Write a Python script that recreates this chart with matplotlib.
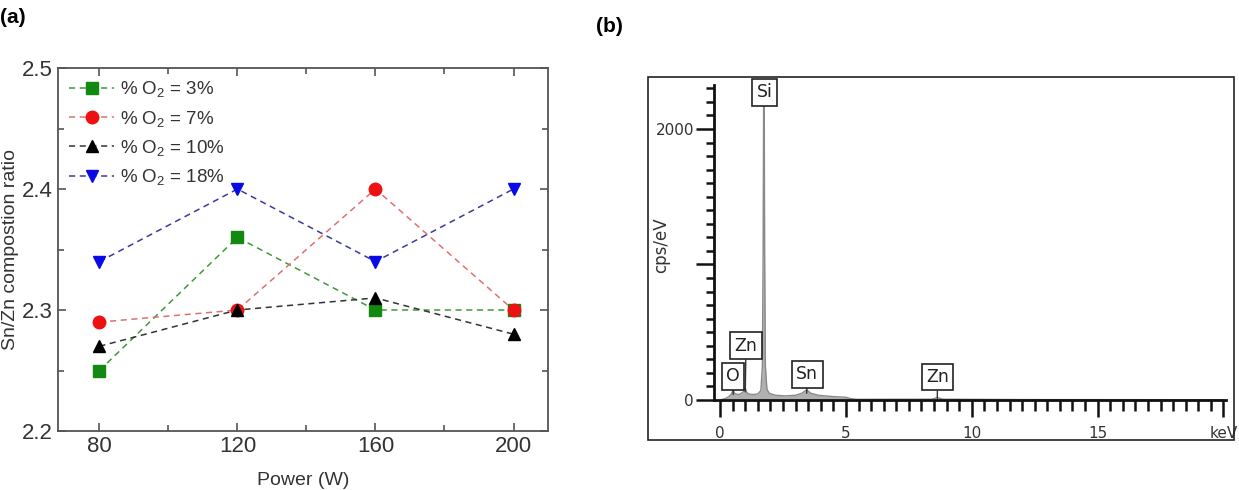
import matplotlib
matplotlib.use("Agg")
import matplotlib.pyplot as plt
from matplotlib.patches import Rectangle
from matplotlib.ticker import MultipleLocator, FixedLocator

plt.rcParams['font.family'] = ['Liberation Sans', 'DejaVu Sans']
plt.rcParams['mathtext.default'] = 'regular'

# ---------- data panel (a) ----------
power_w = [80, 120, 160, 200]
ratio_o2_3 = [2.25, 2.36, 2.30, 2.30]
ratio_o2_7 = [2.29, 2.30, 2.40, 2.30]
ratio_o2_10 = [2.27, 2.30, 2.31, 2.28]
ratio_o2_18 = [2.34, 2.40, 2.34, 2.40]
series_labels = ['% O$_2$ = 3%', '% O$_2$ = 7%', '% O$_2$ = 10%', '% O$_2$ = 18%']

# ---------- data panel (b) ----------
energy_kev = [0.0, 0.2, 0.35, 0.45, 0.52, 0.6, 0.75, 0.9, 1.0, 1.05, 1.12, 1.3, 1.5,
              1.62, 1.68, 1.71, 1.73, 1.74, 1.755, 1.77, 1.8, 1.86, 1.95, 2.2, 2.6,
              3.0, 3.25, 3.44, 3.6, 3.9, 4.5, 5.0, 5.2, 5.4, 8.4, 8.63, 8.85, 12.0, 20.0]
counts = [0, 10, 25, 45, 70, 45, 40, 55, 90, 60, 45, 40, 45,
          70, 250, 1100, 2200, 2330, 2200, 1100, 250, 80, 50, 35, 30,
          35, 50, 75, 50, 35, 25, 20, 10, 5, 6, 18, 6, 3, 2]
peak_names = ['Si', 'Zn', 'O', 'Sn', 'Zn']
peak_energy = [1.74, 1.0, 0.52, 3.44, 8.63]
peak_height = [2330, 60, 40, 50, 12]
label_energy = [1.76, 1.03, 0.52, 3.46, 8.64]
label_height = [2270, 400, 175, 190, 170]

fig = plt.figure(figsize=(12.39, 4.90), dpi=100)

# ---------- panel (a) ----------
ax = fig.add_axes([0.0468, 0.1204, 0.3955, 0.7408])
styles = [
    (ratio_o2_3, 's', '#128a12', '#3c9a3c'),
    (ratio_o2_7, 'o', '#ee1111', '#e07070'),
    (ratio_o2_10, '^', '#000000', '#333333'),
    (ratio_o2_18, 'v', '#0a0ae6', '#3a3a9a'),
]
handles = []
for (vals, mk, mc, lc), lab in zip(styles, series_labels):
    h, = ax.plot(power_w, vals, linestyle=(0, (4, 3)), color=lc, lw=1.1,
                 marker=mk, markersize=9, markerfacecolor=mc, markeredgecolor=mc,
                 label=lab)
    handles.append(h)
ax.set_xlim(68, 210)
ax.set_ylim(2.2, 2.5)
ax.xaxis.set_major_locator(FixedLocator(power_w))
ax.xaxis.set_minor_locator(FixedLocator([100, 140, 180]))
ax.yaxis.set_major_locator(MultipleLocator(0.1))
ax.yaxis.set_minor_locator(MultipleLocator(0.05))
ax.yaxis.set_major_formatter(matplotlib.ticker.FormatStrFormatter('%.1f'))
ax.tick_params(which='both', direction='in', top=True, right=True, colors='#555555',
               labelcolor='#333333', labelsize=16)
ax.tick_params(which='major', length=6, width=1.2)
ax.tick_params(which='minor', length=4, width=1.2)
for s in ax.spines.values():
    s.set_color('#555555')
    s.set_linewidth(1.3)
ax.set_xlabel('Power (W)', fontsize=14, color='#333333', labelpad=11)
ax.set_ylabel('Sn/Zn compostion ratio', fontsize=14, color='#333333', labelpad=2)
leg = ax.legend(handles=handles, loc='upper left', frameon=False, fontsize=13.5,
                handlelength=2.4, handletextpad=0.3, labelspacing=0.5,
                borderaxespad=0.2, bbox_to_anchor=(0.0, 1.0))
for t in leg.get_texts():
    t.set_color('#333333')

fig.text(0.0, 0.965, '(a)', fontsize=15, fontweight='bold', ha='left', va='center')
fig.text(0.481, 0.945, '(b)', fontsize=15, fontweight='bold', ha='left', va='center')

# ---------- panel (b) ----------
frame = Rectangle((0.523, 0.102), 0.473, 0.741, transform=fig.transFigure,
                  fill=False, edgecolor='#222222', lw=1.2)
fig.patches.append(frame)

bx = fig.add_axes([0.5759, 0.1837, 0.4136, 0.6429])
bx.fill_between(energy_kev, counts, 0, color='#b0b0b0', lw=0)
bx.plot(energy_kev, counts, color='#8a8a8a', lw=1.0)
bx.set_xlim(-0.26, 20.1)
bx.set_ylim(0, 2325)
for s in ['top', 'right']:
    bx.spines[s].set_visible(False)
for s in ['left', 'bottom']:
    bx.spines[s].set_linewidth(2)
    bx.spines[s].set_color('#111111')
bx.xaxis.set_major_locator(FixedLocator([0, 5, 10, 15, 20]))
bx.xaxis.set_minor_locator(MultipleLocator(0.5))
bx.set_xticklabels(['0', '5', '10', '15', 'keV'])
bx.yaxis.set_major_locator(FixedLocator([0, 1000, 2000]))
bx.yaxis.set_minor_locator(MultipleLocator(100))
bx.set_yticklabels(['0', '', '2000'])
bx.tick_params(which='both', direction='out', width=1.8, color='#111111',
               labelsize=11, labelcolor='#333333')
bx.tick_params(axis='x', which='major', length=12, pad=7)
bx.tick_params(axis='x', which='minor', length=8)
bx.tick_params(axis='y', which='major', length=13, pad=1)
bx.tick_params(axis='y', which='minor', length=6)
for t in bx.get_xticklabels() + bx.get_yticklabels():
    t.set_family('DejaVu Sans')
bx.set_ylabel('cps/eV', fontsize=12, family='DejaVu Sans', color='#333333')
bx.yaxis.set_label_coords(-0.085, 0.49)

for name, pe, ph, le, lh in zip(peak_names, peak_energy, peak_height, label_energy, label_height):
    bx.annotate(name, xy=(pe, ph), xytext=(le, lh), ha='center', va='center',
                fontsize=12.5, family='DejaVu Sans', color='#222222',
                bbox=dict(boxstyle='square,pad=0.25', fc='white', ec='#222222', lw=1.2),
                arrowprops=dict(arrowstyle='-', color='#333333', lw=1.0,
                                shrinkA=0, shrinkB=0),
                annotation_clip=False)

fig.savefig('out.png', dpi=100)
